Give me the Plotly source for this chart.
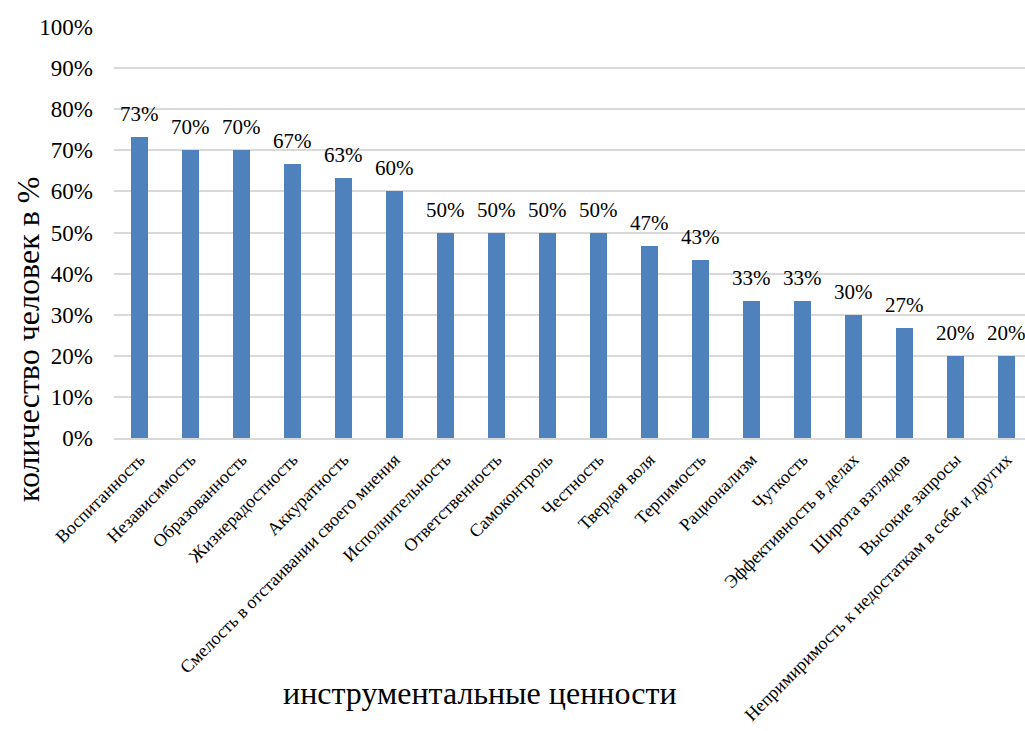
import plotly.graph_objects as go

categories = ["Воспитанность", "Независимость", "Образованность", "Жизнерадостность",
              "Аккуратность", "Смелость в отстаивании своего мнения", "Исполнительность",
              "Ответственность", "Самоконтроль", "Честность", "Твердая воля", "Терпимость",
              "Рационализм", "Чуткость", "Эффективность в делах", "Широта взглядов",
              "Высокие запросы", "Непримиримость к недостаткам в себе и других"]
values = [0.733, 0.70, 0.70, 0.667, 0.633, 0.60, 0.50, 0.50, 0.50, 0.50,
          0.467, 0.433, 0.333, 0.333, 0.30, 0.267, 0.20, 0.20]
value_labels = ["73%", "70%", "70%", "67%", "63%", "60%", "50%", "50%", "50%", "50%",
                "47%", "43%", "33%", "33%", "30%", "27%", "20%", "20%"]
y_title = "количество человек в %"
x_title = "инструментальные ценности"

FONT = "Liberation Serif"

W, H = 1025, 731
L, R, T, B = 114, 0, 27, 293
pw = W - L - R
ph = H - T - B
step = 51.0

xs = list(range(len(categories)))

fig = go.Figure(go.Bar(
    x=xs, y=values,
    marker=dict(color="#4f81bd", line=dict(width=0)),
    width=0.33,
    cliponaxis=False,
    hoverinfo="skip",
))

annotations = []
for xi, v, lab in zip(xs, values, value_labels):
    annotations.append(dict(
        x=xi, y=v, xref="x", yref="y", text=lab, showarrow=False,
        xanchor="center", yanchor="bottom", yshift=9,
        font=dict(family=FONT, size=21, color="#000000"),
    ))

annotations += [
    dict(text=y_title, textangle=-90, xref="paper", yref="paper",
         x=(28 - L) / pw, y=(T + ph - 340) / ph, showarrow=False,
         font=dict(family=FONT, size=32, color="#000000"),
         xanchor="center", yanchor="middle"),
    dict(text=x_title, xref="paper", yref="paper",
         x=(480 - L) / pw, y=(T + ph - 693) / ph, showarrow=False,
         font=dict(family=FONT, size=32, color="#000000"),
         xanchor="center", yanchor="middle"),
]

fig.update_layout(
    width=W, height=H,
    margin=dict(l=L, r=R, t=T, b=B, pad=0),
    paper_bgcolor="white", plot_bgcolor="white",
    font=dict(family=FONT, color="#000000"),
    showlegend=False,
    bargap=0,
    xaxis=dict(
        tickmode="array", tickvals=xs, ticktext=categories,
        tickangle=-45, tickfont=dict(family=FONT, size=18, color="#000000"),
        range=[-0.5, -0.5 + pw / step], automargin=False,
        showgrid=False, showline=True, linecolor="#d9d9d9", linewidth=2,
        ticks="", zeroline=False, ticklabelstandoff=2,
    ),
    yaxis=dict(
        range=[0, 1], dtick=0.1, tick0=0, tickformat=".0%", automargin=False,
        tickfont=dict(family=FONT, size=23, color="#000000"),
        showgrid=True, gridcolor="#d9d9d9", gridwidth=1.5,
        zeroline=False, showline=False, ticks="", ticklabelstandoff=20,
    ),
    annotations=annotations,
)

fig.write_html("out.html", config={"displayModeBar": False},
               post_script="document.body.style.margin='0px';document.body.style.overflow='hidden';")
